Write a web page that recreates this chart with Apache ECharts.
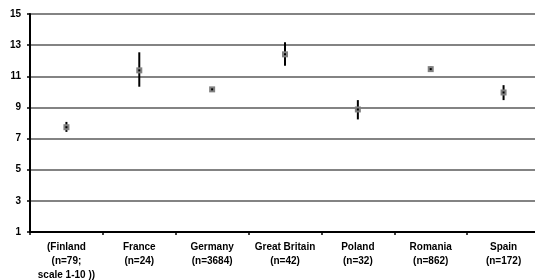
<!DOCTYPE html>
<html>
<head>
<meta charset="utf-8">
<script src="https://cdn.jsdelivr.net/npm/echarts@6/dist/echarts.min.js"></script>
<style>
  html, body { margin: 0; padding: 0; background: #fff; }
  #chart { width: 535px; height: 280px; }
</style>
</head>
<body>
<div id="chart"></div>
<script>
// categories and values
const categories = [
  '(Finland\n(n=79;\nscale 1-10 ))',
  'France\n(n=24)',
  'Germany\n(n=3684)',
  'Great Britain\n(n=42)',
  'Poland\n(n=32)',
  'Romania\n(n=862)',
  'Spain\n(n=172)'
];
const means = [7.73, 11.38, 10.16, 12.41, 8.87, 11.46, 9.96];
const lower = [7.43, 10.33, 10.05, 11.68, 8.23, 11.35, 9.47];
const upper = [8.07, 12.54, 10.27, 13.18, 9.47, 11.62, 10.43];
const yTicks = [1, 3, 5, 7, 9, 11, 13, 15];

const points = means.map((m, i) => [i, m, lower[i], upper[i]]);

const chart = echarts.init(document.getElementById('chart'));

// error bar + grey square marker with dark centre
function renderItem(params, api) {
  let i = api.value(0);
  let c = api.coord([i, api.value(1)]);
  let lo = api.coord([i, api.value(2)]);
  let hi = api.coord([i, api.value(3)]);
  return {
    type: 'group',
    children: [
      {
        type: 'line',
        shape: { x1: c[0], y1: lo[1], x2: c[0], y2: hi[1] },
        style: { stroke: '#000', lineWidth: 2 }
      },
      {
        type: 'rect',
        shape: { x: c[0] - 3, y: c[1] - 3, width: 6, height: 6 },
        style: { fill: '#808080' }
      },
      {
        type: 'rect',
        shape: { x: c[0] - 1, y: c[1] - 1, width: 2, height: 2 },
        style: { fill: '#000' }
      }
    ]
  };
}

chart.setOption({
  animation: false,
  grid: { left: 30, right: -5, top: 14, bottom: 48, outerBoundsMode: 'none' },
  xAxis: {
    type: 'category',
    data: categories,
    boundaryGap: true,
    axisLine: { lineStyle: { color: '#000', width: 2 } },
    axisTick: { show: true, length: 3, lineStyle: { color: '#000', width: 1.5 } },
    axisLabel: {
      interval: 0,
      margin: 8,
      color: '#000',
      fontFamily: 'Liberation Sans, Arial, sans-serif',
      fontWeight: 'bold',
      fontSize: 10,
      lineHeight: 14
    },
    splitLine: { show: false }
  },
  yAxis: {
    type: 'value',
    min: yTicks[0],
    max: yTicks[yTicks.length - 1],
    interval: 2,
    axisLine: { show: true, lineStyle: { color: '#000', width: 2 } },
    axisTick: { show: true, length: 3, lineStyle: { color: '#000', width: 1.5 } },
    axisLabel: {
      margin: 9,
      color: '#000',
      fontFamily: 'Liberation Sans, Arial, sans-serif',
      fontWeight: 'bold',
      fontSize: 10
    },
    splitLine: { show: true, lineStyle: { color: '#5a5a5a', width: 1.5 } }
  },
  series: [
    {
      type: 'custom',
      renderItem: renderItem,
      encode: { x: 0, y: [1, 2, 3] },
      data: points,
      z: 5
    }
  ]
});
</script>
</body>
</html>
